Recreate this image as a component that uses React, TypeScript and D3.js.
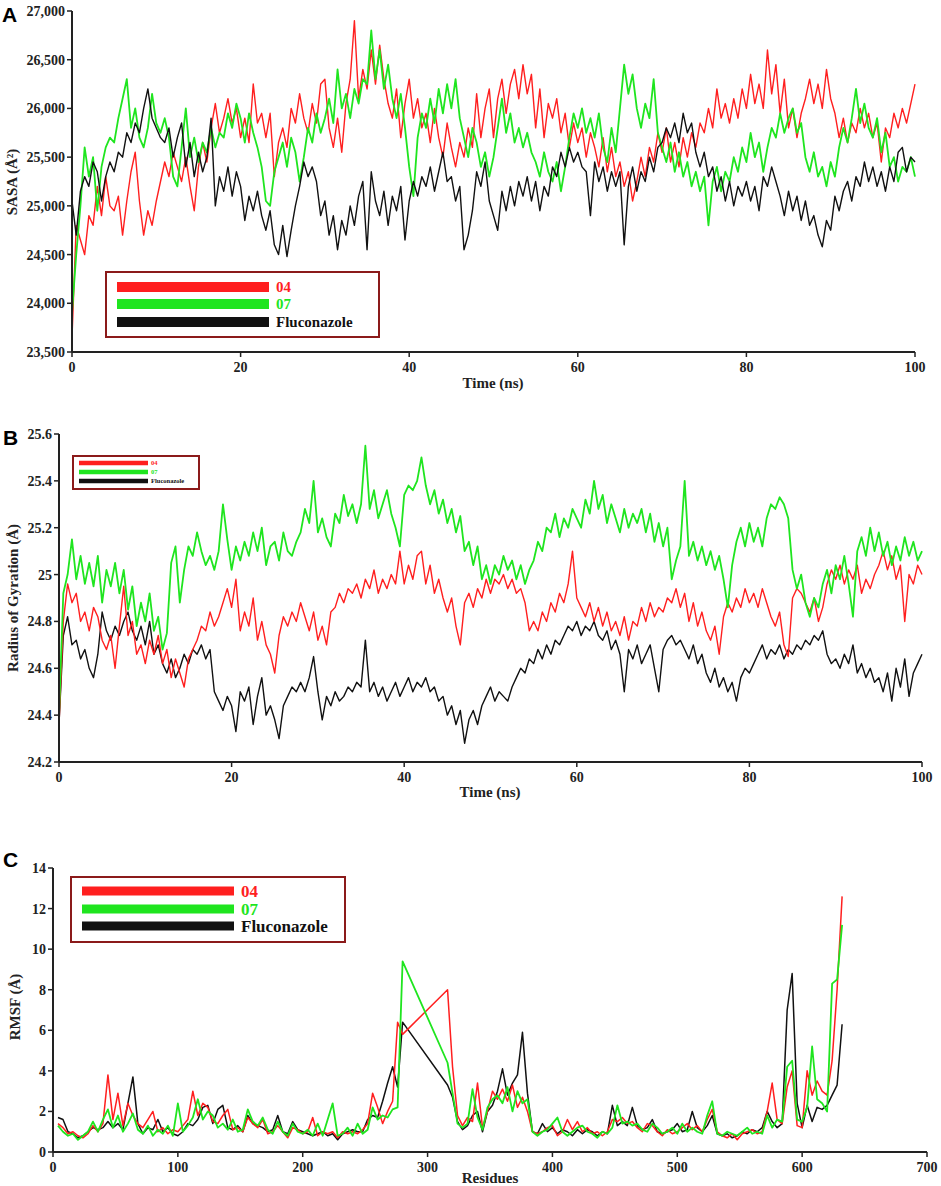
import * as d3 from "d3";

// ---- data ----
const times = d3.range(201).map((i) => i * 0.5);

// Panel A: SASA (Å²)
const sasa04 = [
  23650, 24800, 24650, 24500, 24900, 24800, 25200, 24900, 25300, 25000,
  24950, 25100, 24700, 25050, 25350, 25550, 25050, 24700, 24950, 24800,
  25050, 25250, 25450, 25300, 25550, 25400, 25250, 25500, 25200, 24950,
  25400, 25650, 25450, 25800, 26050, 25750, 25900, 26100, 25850, 26000,
  25700, 25900, 25650, 26250, 25850, 25950, 25700, 25950, 25300, 25650,
  25800, 25600, 26000, 25850, 26150, 25900, 25750, 26050, 25850, 26250,
  26300, 25800, 25600, 25900, 25550, 26050, 26300, 26900, 26100, 26400,
  26200, 26600, 26250, 26650, 26300, 26050, 25900, 26200, 25700, 26050,
  26300, 25900, 26100, 25800, 25950, 25650, 26000, 25700, 25500, 25850,
  25600, 25400, 25650, 25500, 25800, 25600, 26150, 25700, 26000, 26200,
  25700, 26100, 26300, 25950, 26250, 26400, 26100, 26450, 26150, 26350,
  25800, 26200, 25700, 26050, 25900, 26100, 25750, 25950, 25600, 25850,
  25650, 25800, 25500, 25750, 25600, 25400, 25700, 25350, 25600, 25300,
  25450, 25200, 25350, 25050, 25250, 25500, 25300, 25600, 25450, 25750,
  25550, 25800, 25450, 25650, 25400, 25700, 25500, 25750, 25600, 25850,
  25750, 26000, 25800, 26200, 25900, 26050, 25850, 26100, 25900, 26200,
  26000, 26350, 26050, 26250, 26000, 26600, 26150, 26450, 25950, 26300,
  25800, 26000, 25700, 25950, 26100, 26300, 26050, 26250, 26000, 26400,
  26100, 25950, 25700, 25900, 25650, 25850, 25750, 26000, 25800, 25950,
  25700, 25850, 25450, 25800, 25700, 25950, 25800, 26000, 25850, 26050,
  26250,
];
const sasa07 = [
  23900, 24500, 25000, 25600, 25300, 25500, 24950, 25400, 25600, 25700,
  25650, 25900, 26100, 26300, 25800, 26000, 25700, 25600, 25800, 26150,
  25850, 25750, 25900, 25700, 25300, 25200, 25600, 26000, 25500, 25700,
  25450, 25650, 25550, 25800, 25600, 25750, 25700, 25950, 25800, 26050,
  25900, 25650, 25950, 25750, 25600, 25400, 25050, 25000, 25350, 25500,
  25650, 25400, 25700, 25550, 25250, 25500, 25800, 25650, 25950, 25750,
  25900, 26100, 25850, 26400, 26000, 26150, 25900, 26200, 26050, 26300,
  26250, 26800, 26300, 26600, 26200, 26450, 26100, 25900, 26150, 25800,
  25400, 25100, 25700, 25950, 25800, 26100, 25850, 26200, 25950, 26250,
  26000, 26300, 25900, 25700, 25500, 25800, 25650, 25400, 25550, 25300,
  25500, 25800, 26100, 25750, 25950, 25650, 25800, 25600, 25750, 25550,
  25450, 25300, 25550, 25350, 25250, 25450, 25150, 25400, 25700, 25950,
  25800, 26000, 25750, 25900, 25700, 25950, 25600, 25450, 25800, 25550,
  26000, 26450, 26150, 26350, 26000, 25800, 26050, 25900, 26300, 25750,
  25600, 25450, 25650, 25350, 25550, 25300, 25450, 25200, 25350, 25150,
  25300, 24800, 25250, 25400, 25150, 25350, 25250, 25500, 25350, 25600,
  25450, 25750, 25500, 25650, 25350, 25600, 25800, 25700, 25950, 25750,
  25900, 26000, 25750, 25850, 25500, 25350, 25550, 25300, 25400, 25200,
  25450, 25300, 25600, 25800, 25650, 25900, 26200, 25850, 26050, 25800,
  25700, 25900, 25550, 25750, 25400, 25500, 25250, 25400, 25350, 25500,
  25300,
];
const sasaFlu = [
  25050, 24700, 25150, 25300, 25200, 25450, 25350, 25050, 25300, 25450,
  25350, 25550, 25500, 25750, 25650, 25850, 25750, 26000, 26200, 25900,
  25800, 25700, 25650, 25800, 25500, 25700, 25850, 25400, 25650, 25300,
  25550, 25350, 25500, 25900, 25000, 25300, 25150, 25400, 25100, 25350,
  25200, 24850, 25100, 24950, 25150, 24900, 24750, 24950, 24600, 24500,
  24800, 24480, 24750, 25000, 25200, 25450, 25300, 25400, 25250, 24900,
  25050, 24700, 24900, 24550, 24850, 24700, 25000, 24800, 25100, 25250,
  24550, 25350, 25050, 24900, 25150, 24800, 25100, 24950, 25200, 24650,
  25050, 25250, 25100, 25300, 25200, 25400, 25150, 25350, 25550, 25250,
  25300, 25050, 25200, 24550, 24700, 24950, 25350, 25200, 25450, 25050,
  24900, 24750, 25150, 24950, 25200, 25000, 25250, 25100, 25300, 25050,
  25250, 24950, 25200, 25100, 25400, 25300, 25550, 25400, 25600, 25450,
  25550, 25400, 25350, 24900, 25450, 25250, 25400, 25150, 25350, 25200,
  25350, 24600, 25200, 25400, 25150, 25350, 25250, 25500, 25350, 25600,
  25650, 25800, 25700, 25850, 25650, 25950, 25750, 25850, 25550, 25400,
  25550, 25300, 25400, 25150, 25300, 25050, 25250, 25000, 25200, 25100,
  25250, 25050, 25200, 24950, 25300, 25200, 25400, 25250, 25100, 24900,
  25150, 24950, 25100, 24850, 25050, 24800, 24900, 24700, 24580, 24850,
  24750, 25100, 24950, 25150, 25250, 25050, 25300, 25200, 25450, 25250,
  25400, 25200, 25350, 25150, 25400, 25250, 25550, 25600, 25350, 25500,
  25450,
];

// Panel B: radius of gyration (Å)
const rg04 = [
  24.36, 24.8, 24.96, 24.88, 24.92, 24.8, 24.84, 24.76, 24.86, 24.82,
  24.72, 24.68, 24.74, 24.6, 24.78, 24.95, 24.74, 24.8, 24.66, 24.7,
  24.62, 24.72, 24.66, 24.74, 24.62, 24.68, 24.56, 24.64, 24.58, 24.52,
  24.64, 24.68, 24.72, 24.78, 24.76, 24.84, 24.78, 24.82, 24.88, 24.94,
  24.86, 24.98, 24.76, 24.84, 24.78, 24.9, 24.72, 24.8, 24.7, 24.66,
  24.58, 24.74, 24.82, 24.78, 24.84, 24.8, 24.88, 24.82, 24.76, 24.84,
  24.72, 24.78, 24.7, 24.84, 24.86, 24.92, 24.88, 24.94, 24.92, 24.96,
  24.9, 24.98, 24.94, 25.02, 24.92, 24.98, 24.94, 25.0, 24.96, 25.1,
  24.96, 25.04, 24.98, 25.08, 25.1, 24.96, 25.04, 24.92, 24.98, 24.9,
  24.84, 24.9, 24.78, 24.7, 24.88, 24.92, 24.86, 24.94, 24.9, 24.98,
  24.92, 24.98, 24.96, 25.0, 24.94, 24.98, 24.92, 24.94, 24.88, 24.76,
  24.8, 24.76, 24.84, 24.8, 24.88, 24.84, 24.92, 24.88, 24.96, 25.1,
  24.9, 24.86, 24.82, 24.88, 24.8, 24.86, 24.78, 24.84, 24.76, 24.8,
  24.74, 24.82, 24.72, 24.8, 24.78, 24.86, 24.8, 24.88, 24.82, 24.86,
  24.84, 24.9, 24.88, 24.94, 24.86, 24.92, 24.8, 24.88, 24.78, 24.84,
  24.76, 24.72, 24.78, 24.66, 24.82, 24.88, 24.84, 24.9, 24.86, 24.94,
  24.88, 24.92, 24.86, 24.94, 24.88, 24.82, 24.78, 24.84, 24.7, 24.65,
  24.9, 24.94, 24.92, 24.88, 24.84, 24.9, 24.8, 24.86, 24.96, 25.02,
  24.98, 25.04, 24.96, 25.02, 24.98, 25.04, 24.92, 24.98, 24.94, 25.0,
  25.04, 25.1, 25.02, 25.08, 24.98, 25.04, 24.8, 25.0, 24.96, 25.04,
  25.0,
];
const rg07 = [
  24.4, 24.92, 25.0, 25.15, 24.98, 25.08, 24.96, 25.05, 24.95, 25.08,
  24.88, 25.02, 24.95, 25.05, 24.92, 25.02, 24.85, 24.95, 24.78, 24.88,
  24.8, 24.92, 24.76, 24.82, 24.68, 24.75, 25.05, 25.12, 24.88, 25.02,
  25.12, 25.08, 25.18, 25.1, 25.04, 25.08, 25.02, 25.1, 25.3, 25.15,
  25.02, 25.12, 25.06, 25.14, 25.08, 25.18, 25.1, 25.2, 25.04, 25.12,
  25.14, 25.06, 25.18, 25.1, 25.08, 25.14, 25.18, 25.28, 25.22, 25.4,
  25.18, 25.24, 25.16, 25.12, 25.26, 25.22, 25.34, 25.25, 25.3, 25.22,
  25.3, 25.55, 25.28, 25.36, 25.24, 25.3, 25.36, 25.26, 25.2, 25.12,
  25.34, 25.38, 25.36, 25.4, 25.5, 25.38, 25.3, 25.36, 25.26, 25.32,
  25.22, 25.28, 25.18, 25.25, 25.1, 25.14, 25.04, 25.12, 24.98, 25.04,
  24.96, 25.04, 25.0, 25.08, 25.02, 25.06, 24.98, 25.04, 24.96, 25.02,
  25.06, 25.14, 25.1, 25.2, 25.18, 25.26, 25.16, 25.24, 25.2, 25.28,
  25.24, 25.2, 25.32, 25.26, 25.4, 25.28, 25.34, 25.22, 25.3, 25.24,
  25.18, 25.28, 25.2, 25.26, 25.22, 25.28, 25.18, 25.26, 25.14, 25.22,
  25.12, 25.2, 24.98, 25.06, 25.12, 25.4, 25.08, 25.14, 25.06, 25.12,
  25.04, 25.1, 25.02, 25.08, 24.98, 24.86, 25.04, 25.14, 25.2, 25.12,
  25.22, 25.14, 25.2, 25.12, 25.24, 25.3, 25.28, 25.33, 25.3, 25.24,
  25.02, 24.94, 25.0, 24.88, 24.82, 24.9, 24.86, 24.96, 25.02, 24.92,
  25.04, 24.98, 25.08, 24.96, 24.82, 25.1, 25.16, 25.08, 25.2, 25.1,
  25.18, 25.08, 25.14, 25.04, 25.12, 25.06, 25.16, 25.08, 25.14, 25.06,
  25.1,
];
const rgFlu = [
  24.36, 24.74, 24.82, 24.7, 24.72, 24.64, 24.68, 24.6, 24.56, 24.66,
  24.84, 24.76, 24.72, 24.78, 24.74, 24.8, 24.84, 24.76, 24.72, 24.78,
  24.7, 24.8, 24.66, 24.7, 24.62, 24.58, 24.64, 24.56, 24.6, 24.66,
  24.62, 24.68, 24.66, 24.7, 24.64, 24.68, 24.5, 24.46, 24.42, 24.48,
  24.44, 24.33, 24.5, 24.46, 24.52, 24.36, 24.48, 24.56, 24.4, 24.44,
  24.38, 24.3, 24.44, 24.48, 24.52, 24.5, 24.54, 24.5, 24.56, 24.65,
  24.5, 24.38, 24.48, 24.44, 24.5, 24.46, 24.48, 24.52, 24.5, 24.54,
  24.52, 24.72, 24.5, 24.54, 24.48, 24.52, 24.46, 24.5, 24.54, 24.48,
  24.52, 24.56, 24.5, 24.54, 24.52, 24.56, 24.5, 24.52, 24.46, 24.48,
  24.4, 24.44, 24.36, 24.42, 24.28, 24.38, 24.42, 24.36, 24.44, 24.48,
  24.52, 24.46, 24.5, 24.48, 24.46, 24.52, 24.56, 24.6, 24.58, 24.64,
  24.62, 24.68, 24.64, 24.7, 24.66, 24.72, 24.7, 24.74, 24.78, 24.76,
  24.8, 24.74, 24.78, 24.76, 24.8, 24.74, 24.72, 24.76, 24.68, 24.72,
  24.66, 24.5, 24.68, 24.64, 24.7, 24.62, 24.66, 24.7, 24.6, 24.5,
  24.68, 24.72, 24.74, 24.7, 24.72, 24.68, 24.64, 24.7, 24.62, 24.66,
  24.58, 24.54, 24.6, 24.52, 24.56, 24.5, 24.54, 24.46, 24.56, 24.6,
  24.58, 24.62, 24.66, 24.7, 24.64, 24.68, 24.66, 24.7, 24.64, 24.68,
  24.66, 24.7, 24.68, 24.72, 24.7, 24.74, 24.72, 24.76, 24.66, 24.62,
  24.64, 24.6, 24.66, 24.62, 24.7, 24.58, 24.62, 24.56, 24.6, 24.54,
  24.56, 24.5, 24.58, 24.46, 24.6, 24.52, 24.64, 24.48, 24.58, 24.62,
  24.66,
];

// Panel C: RMSF (Å) per residue (residues 282-315 are missing)
const residues = d3.range(4, 281, 4).concat(d3.range(316, 633, 4));
const rmsf04 = [
  1.4, 1.2, 0.9, 1.0, 0.8, 0.7, 0.9, 1.3, 1.0, 1.4,
  3.8, 1.6, 2.9, 1.3, 2.4, 1.8, 1.4, 1.2, 1.6, 2.0,
  1.0, 1.2, 0.9, 1.1, 1.0, 1.3, 1.6, 3.0, 1.8, 2.4,
  2.2, 1.5, 1.4, 1.8, 2.1, 1.1, 1.2, 1.0, 1.7, 1.4,
  1.2, 1.6, 0.9, 1.0, 1.3, 1.0, 0.7, 1.2, 1.1, 0.9,
  1.0, 1.7, 0.8, 1.0, 0.9, 1.0, 0.7, 1.0, 0.9, 1.0,
  0.9, 1.1, 1.4, 2.9, 2.2, 1.4, 2.0, 2.5, 6.4, 5.8,
  8.0, 4.2, 1.8, 1.3, 1.7, 1.5, 3.4, 1.2, 2.0, 3.0,
  2.6, 3.1, 2.5, 3.3, 2.2, 2.7, 2.0, 1.0, 0.9, 1.0,
  1.2, 1.3, 0.8, 1.0, 1.6, 1.1, 1.5, 1.0, 1.2, 0.9,
  1.0, 0.8, 1.0, 1.6, 1.5, 1.7, 1.4, 1.5, 1.2, 1.0,
  1.4, 1.3, 1.0, 0.8, 1.1, 0.9, 1.0, 1.2, 1.4, 1.1,
  1.3, 1.0, 1.6, 2.1, 1.0, 0.8, 0.7, 0.9, 0.6, 0.9,
  1.0, 1.1, 0.9, 1.0, 2.0, 3.4, 1.6, 1.4, 3.2, 4.0,
  1.3, 1.2, 4.0, 2.8, 3.5, 3.0, 2.8, 4.5, 8.0, 12.6,
];
const rmsf07 = [
  1.3, 1.0, 0.8, 0.9, 0.6, 0.8, 1.0, 1.5, 1.0, 1.6,
  2.1, 1.2, 1.8, 1.0, 1.4, 1.9, 1.1, 0.9, 1.3, 0.8,
  1.1, 0.9, 1.3, 0.8, 2.4, 1.0, 1.3, 1.7, 2.6, 1.6,
  2.0, 1.8, 1.2, 1.4, 1.1, 1.6, 1.0, 1.1, 2.1, 1.5,
  1.3, 1.7, 1.1, 0.9, 1.5, 1.0, 0.8, 1.4, 1.0, 0.9,
  1.1, 0.8, 1.4, 0.8, 1.6, 2.4, 0.8, 0.9, 1.2, 0.8,
  1.4, 0.9, 1.1, 2.2, 1.6, 1.8, 1.7, 2.1, 2.2, 9.4,
  4.4, 2.9, 1.4, 1.2, 1.4, 3.1, 1.7, 1.1, 2.2, 2.6,
  2.8, 2.4, 3.2, 2.0, 3.0, 2.4, 2.6, 1.0, 0.8, 1.0,
  1.1, 1.4, 1.7, 1.0, 0.8, 1.0, 1.2, 1.3, 1.0, 0.9,
  0.7, 1.0, 0.9, 1.2, 2.3, 1.4, 1.5, 1.3, 1.4, 1.1,
  1.0, 1.4, 1.2, 0.9, 1.0, 1.2, 0.9, 1.4, 1.0, 1.2,
  1.0, 0.9, 1.8, 2.5, 0.9, 0.8, 1.0, 0.9, 0.8, 1.0,
  1.2, 0.9, 1.0, 0.9, 1.8, 1.2, 1.6, 1.5, 4.2, 4.5,
  1.6, 1.5, 2.2, 5.2, 2.6, 2.4, 2.0, 8.3, 8.5, 11.2,
];
const rmsfFlu = [
  1.7, 1.6, 1.0, 0.9, 0.7, 0.8, 1.0, 1.2, 1.1, 1.2,
  1.5, 1.2, 1.4, 1.1, 2.4, 3.7, 1.4, 0.9, 1.2, 1.1,
  1.6, 1.0, 1.2, 0.9, 0.8, 1.0, 1.4, 1.3, 1.6, 2.2,
  2.3, 1.4, 2.1, 2.3, 1.2, 1.1, 1.3, 1.0, 1.8, 1.4,
  1.3, 1.2, 1.0, 1.1, 1.8, 1.0, 0.9, 1.5, 1.1, 1.0,
  0.9, 0.8, 0.9, 1.0, 0.8, 0.9, 0.6, 0.9, 1.0, 1.1,
  1.0, 1.0, 1.6, 1.8, 1.7, 2.5, 3.4, 4.2, 3.2, 6.4,
  3.3, 2.7, 1.5, 1.1, 1.3, 1.8, 2.0, 1.0, 2.0, 2.3,
  3.0, 4.1, 2.8, 3.4, 3.8, 5.9, 2.9, 1.0, 0.9, 1.4,
  1.0, 1.2, 0.9, 1.1, 1.0, 0.8, 1.1, 0.9, 1.1, 1.0,
  0.8, 1.0, 0.9, 2.3, 1.3, 1.5, 1.3, 2.2, 1.3, 1.1,
  1.2, 1.6, 1.0, 0.9, 1.0, 1.1, 1.4, 1.0, 1.1, 2.0,
  1.2, 1.0, 1.3, 1.8, 0.9, 0.8, 0.9, 0.7, 0.8, 1.0,
  0.9, 1.1, 1.0, 1.2, 2.0, 1.5, 1.2, 1.4, 7.0, 8.8,
  2.4, 1.2, 2.3, 1.5, 2.2, 2.1, 2.3, 2.8, 3.3, 6.3,
];

const seriesNames = ["04", "07", "Fluconazole"];
const RED = "#ff1f1f";
const GREEN = "#1fe51f";
const BLACK = "#111111";
const seriesColors = [RED, GREEN, BLACK];

const serif = "'Liberation Serif', 'Times New Roman', serif";
const sans = "'Liberation Sans', Arial, sans-serif";

const Legend = ({ box, lineX0, lineX1, rows, lineW, fontSize, textX }) => (
  <g>
    <rect x={box[0]} y={box[1]} width={box[2]} height={box[3]} fill="white" stroke="#8b1a1a" strokeWidth={2} />
    {seriesNames.map((name, i) => (
      <g key={name}>
        <line x1={lineX0} x2={lineX1} y1={rows[i]} y2={rows[i]} stroke={seriesColors[i]} strokeWidth={lineW} />
        <text
          x={textX}
          y={rows[i] + fontSize * 0.35}
          fontFamily={serif}
          fontWeight="bold"
          fontSize={fontSize}
          fill={seriesColors[i]}
        >
          {name}
        </text>
      </g>
    ))}
  </g>
);

const Panel = ({ cfg }) => {
  const x = d3.scaleLinear().domain(cfg.xDomain).range([cfg.x0, cfg.x1]);
  const y = d3.scaleLinear().domain(cfg.yDomain).range([cfg.yBot, cfg.yTop]);
  const line = d3
    .line()
    .x((d) => x(d[0]))
    .y((d) => y(d[1]));
  return (
    <g>
      <text x={cfg.letter[1]} y={cfg.letter[2]} fontFamily={sans} fontWeight="bold" fontSize={21} fill="#000">
        {cfg.letter[0]}
      </text>
      {cfg.order.map((si) => (
        <path
          key={si}
          d={line(cfg.xs.map((xv, i) => [xv, cfg.series[si][i]]))}
          fill="none"
          stroke={seriesColors[si]}
          strokeWidth={cfg.lineWidths[si]}
          strokeLinejoin="round"
        />
      ))}
      {/* axes */}
      <line x1={cfg.x0} x2={cfg.x0} y1={cfg.yTop} y2={cfg.yBot} stroke="#222" strokeWidth={2} />
      <line x1={cfg.x0} x2={cfg.x1} y1={cfg.yBot} y2={cfg.yBot} stroke="#222" strokeWidth={2} />
      {cfg.yTicks.map((t) => (
        <g key={"y" + t}>
          <line x1={cfg.x0 - 5} x2={cfg.x0} y1={y(t)} y2={y(t)} stroke="#222" strokeWidth={1.5} />
          <text
            x={cfg.x0 - 7}
            y={y(t) + 5}
            textAnchor="end"
            fontFamily={serif}
            fontWeight="bold"
            fontSize={14}
            fill="#222"
          >
            {cfg.yFmt(t)}
          </text>
        </g>
      ))}
      {cfg.xTicks.map((t) => (
        <g key={"x" + t}>
          <line x1={x(t)} x2={x(t)} y1={cfg.yBot} y2={cfg.yBot + 5} stroke="#222" strokeWidth={1.5} />
          <text
            x={x(t)}
            y={cfg.yBot + 20}
            textAnchor="middle"
            fontFamily={serif}
            fontWeight="bold"
            fontSize={14}
            fill="#222"
          >
            {t}
          </text>
        </g>
      ))}
      <text
        x={cfg.xLabel[1]}
        y={cfg.xLabel[2]}
        textAnchor="middle"
        fontFamily={serif}
        fontWeight="bold"
        fontSize={15}
        fill="#222"
      >
        {cfg.xLabel[0]}
      </text>
      <text
        transform={`translate(${cfg.yLabel[1]},${cfg.yLabel[2]}) rotate(-90)`}
        textAnchor="middle"
        fontFamily={serif}
        fontWeight="bold"
        fontSize={15}
        fill="#222"
      >
        {cfg.yLabel[0]}
      </text>
      <Legend {...cfg.legend} />
    </g>
  );
};

const panels = [
  {
    letter: ["A", 2, 22],
    x0: 72,
    x1: 915,
    yTop: 11,
    yBot: 352,
    xDomain: [0, 100],
    yDomain: [23500, 27000],
    xTicks: [0, 20, 40, 60, 80, 100],
    yTicks: d3.range(23500, 27001, 500),
    yFmt: d3.format(","),
    xLabel: ["Time (ns)", 493, 388],
    yLabel: ["SASA (Å²)", 17, 182],
    xs: times,
    series: [sasa04, sasa07, sasaFlu],
    order: [0, 1, 2],
    lineWidths: [1.4, 1.8, 1.4],
    legend: {
      box: [106, 272, 273, 65],
      lineX0: 117,
      lineX1: 269,
      rows: [287, 304, 322],
      lineW: 10,
      fontSize: 15,
      textX: 276,
    },
  },
  {
    letter: ["B", 3, 445],
    x0: 59,
    x1: 922,
    yTop: 434,
    yBot: 762,
    xDomain: [0, 100],
    yDomain: [24.2, 25.6],
    xTicks: [0, 20, 40, 60, 80, 100],
    yTicks: d3.range(0, 8).map((i) => 24.2 + i * 0.2),
    yFmt: (v) => String(Math.round(v * 10) / 10),
    xLabel: ["Time (ns)", 490, 797],
    yLabel: ["Radius of Gyration (Å)", 18, 598],
    xs: times,
    series: [rg04, rg07, rgFlu],
    order: [2, 0, 1],
    lineWidths: [1.4, 1.8, 1.4],
    legend: {
      box: [73, 456, 126, 33],
      lineX0: 79,
      lineX1: 148,
      rows: [463, 472, 481],
      lineW: 4.5,
      fontSize: 6.5,
      textX: 151,
    },
  },
  {
    letter: ["C", 3, 867],
    x0: 53,
    x1: 927,
    yTop: 868,
    yBot: 1152,
    xDomain: [0, 700],
    yDomain: [0, 14],
    xTicks: [0, 100, 200, 300, 400, 500, 600, 700],
    yTicks: d3.range(0, 15, 2),
    yFmt: (v) => String(v),
    xLabel: ["Residues", 490, 1183],
    yLabel: ["RMSF (Å)", 20, 1007],
    xs: residues,
    series: [rmsf04, rmsf07, rmsfFlu],
    order: [2, 0, 1],
    lineWidths: [1.5, 1.8, 1.5],
    legend: {
      box: [71, 877, 274, 65],
      lineX0: 82,
      lineX1: 234,
      rows: [891, 909, 926],
      lineW: 9,
      fontSize: 17,
      textX: 241,
    },
  },
];

export default function App() {
  return (
    <div style={{ position: "absolute", left: 0, top: 0 }}>
      <svg width={941} height={1186} style={{ display: "block", background: "#fff" }}>
        {panels.map((p) => (
          <Panel key={p.letter[0]} cfg={p} />
        ))}
      </svg>
    </div>
  );
}
